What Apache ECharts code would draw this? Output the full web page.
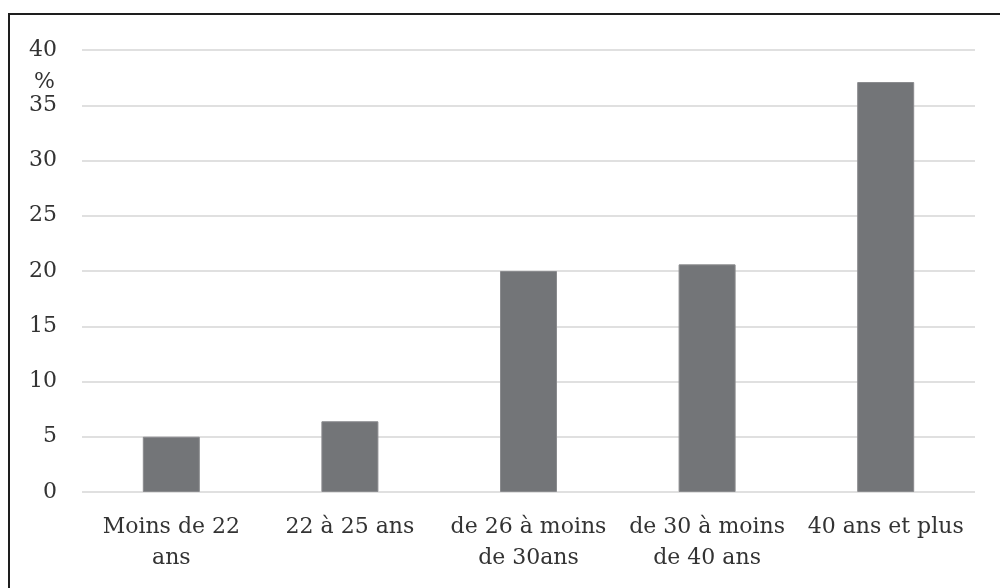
<!DOCTYPE html>
<html>
<head>
<meta charset="utf-8">
<script src="https://cdn.jsdelivr.net/npm/echarts@6/dist/echarts.min.js"></script>
<style>
html,body{margin:0;padding:0;background:#fff;}
#frame{position:absolute;left:8px;top:13px;width:992px;height:575px;border-left:2px solid #1e1e1e;border-top:2px solid #1e1e1e;box-sizing:border-box;}
#chart{position:absolute;left:0;top:0;width:1000px;height:588px;}
</style>
</head>
<body>
<div id="frame"></div>
<div id="chart"></div>
<script>
var categories = ["Moins de 22\nans", "22 à 25 ans", "de 26 à moins\nde 30ans", "de 30 à moins\nde 40 ans", "40 ans et plus"];
var values = [5.0, 6.4, 20.0, 20.6, 37.1];
var yTicks = { min: 0, max: 40, interval: 5 };
var yUnit = "%";

var font = "DejaVu Serif";
var chart = echarts.init(document.getElementById('chart'));
chart.setOption({
  backgroundColor: 'transparent',
  animation: false,
  grid: { left: 82, right: 25, top: 50, bottom: 96 },
  xAxis: {
    type: 'category',
    data: categories,
    axisLine: { show: false },
    axisTick: { show: false },
    axisLabel: { color: '#333', fontFamily: font, fontSize: 22, lineHeight: 31, margin: 20, interval: 0 }
  },
  yAxis: {
    type: 'value',
    min: yTicks.min, max: yTicks.max, interval: yTicks.interval,
    name: yUnit,
    nameLocation: 'end',
    nameGap: -32,
    nameTextStyle: { color: '#333', fontFamily: font, fontSize: 22, align: 'right', verticalAlign: 'middle', padding: [0, 27, 0, 0] },
    axisLine: { show: false },
    axisTick: { show: false },
    axisLabel: { color: '#333', fontFamily: font, fontSize: 22, margin: 25 },
    splitLine: { lineStyle: { color: '#e0e0e0', width: 2 } }
  },
  series: [{
    type: 'bar',
    data: values,
    barWidth: 57,
    itemStyle: { color: '#737578', borderColor: '#8a8b8e', borderWidth: 1 }
  }]
});
</script>
</body>
</html>
